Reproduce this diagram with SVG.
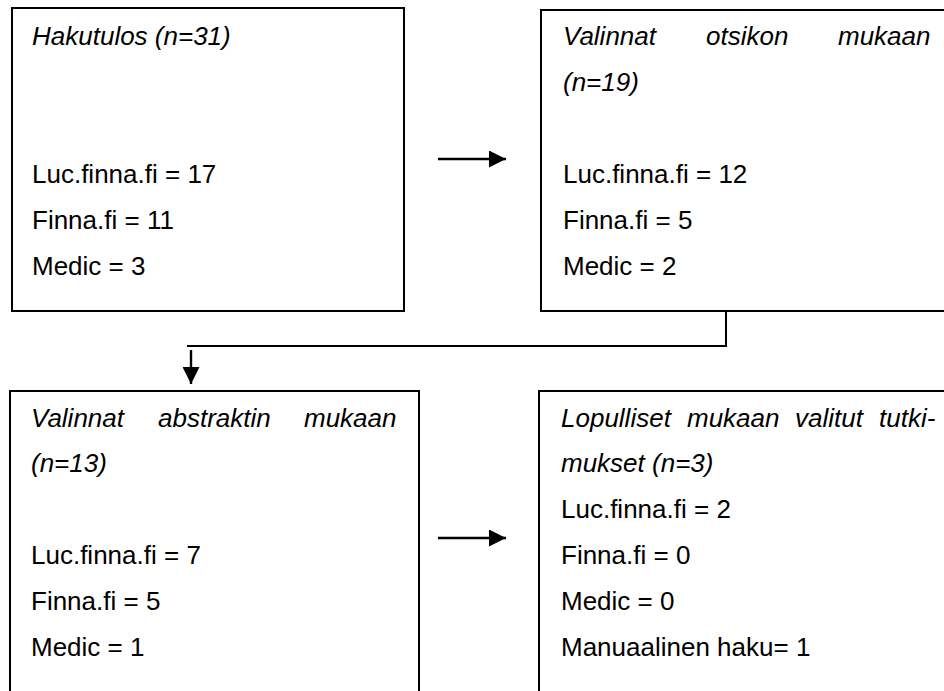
<svg xmlns="http://www.w3.org/2000/svg" width="944" height="691" viewBox="0 0 944 691">
<style>
.box{fill:#fff;stroke:#000;stroke-width:2}
.t{font-family:"Liberation Sans",Arial,sans-serif;font-size:26px;fill:#000}
.i{font-style:italic}
.c{fill:none;stroke:#000;stroke-width:2}
.a{fill:none;stroke:#000;stroke-width:2.4}
</style>
<defs>
<marker id="ah" viewBox="0 0 10 10" refX="10" refY="5" markerWidth="17" markerHeight="17" markerUnits="userSpaceOnUse" orient="auto">
<path d="M0,0 L10,5 L0,10 Z" fill="#000"/>
</marker>
</defs>
<rect width="944" height="691" fill="#fff"/>
<g id="n1">
<rect class="box" x="12" y="8" width="392" height="303"/>
<text class="t i" x="32" y="45">Hakutulos (n=31)</text>
<text class="t" x="32" y="183">Luc.finna.fi = 17</text>
<text class="t" x="32" y="229">Finna.fi = 11</text>
<text class="t" x="32" y="275">Medic = 3</text>
</g>
<g id="n2">
<rect class="box" x="541" y="10" width="420" height="301"/>
<text class="t i" x="563" y="45">Valinnat</text>
<text class="t i" x="706" y="45">otsikon</text>
<text class="t i" x="838" y="45">mukaan</text>
<text class="t i" x="563" y="91">(n=19)</text>
<text class="t" x="563" y="183">Luc.finna.fi = 12</text>
<text class="t" x="563" y="229">Finna.fi = 5</text>
<text class="t" x="563" y="275">Medic = 2</text>
</g>
<g id="n3">
<rect class="box" x="10" y="391" width="409" height="320"/>
<text class="t i" x="31" y="427">Valinnat</text>
<text class="t i" x="158" y="427">abstraktin</text>
<text class="t i" x="304" y="427">mukaan</text>
<text class="t i" x="31" y="472">(n=13)</text>
<text class="t" x="31" y="564">Luc.finna.fi = 7</text>
<text class="t" x="31" y="610">Finna.fi = 5</text>
<text class="t" x="31" y="656">Medic = 1</text>
</g>
<g id="n4">
<rect class="box" x="539" y="391" width="420" height="320"/>
<text class="t i" x="561" y="427">Lopulliset</text>
<text class="t i" x="687" y="427">mukaan</text>
<text class="t i" x="795" y="427">valitut</text>
<text class="t i" x="879" y="427">tutki-</text>
<text class="t i" x="561" y="472">mukset (n=3)</text>
<text class="t" x="561" y="518">Luc.finna.fi = 2</text>
<text class="t" x="561" y="564">Finna.fi = 0</text>
<text class="t" x="561" y="610">Medic = 0</text>
<text class="t" x="561" y="656">Manuaalinen haku= 1</text>
</g>
<g id="connectors">
<line class="a" x1="438" y1="159" x2="506" y2="159" marker-end="url(#ah)"/>
<polyline class="c" points="726,311 726,346 187,346"/>
<line class="a" x1="191" y1="350" x2="191" y2="384" marker-end="url(#ah)"/>
<line class="a" x1="438" y1="538" x2="506" y2="538" marker-end="url(#ah)"/>
</g>
</svg>
